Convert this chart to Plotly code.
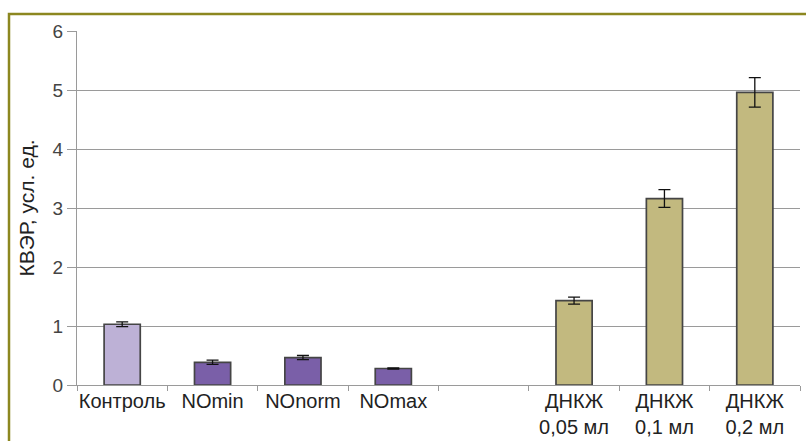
import plotly.graph_objects as go

# Groups along the x axis (one empty slot separates the two series)
categories = ["Контроль", "NOmin", "NOnorm", "NOmax", " ",
              "ДНКЖ<br>0,05 мл", "ДНКЖ<br>0,1 мл", "ДНКЖ<br>0,2 мл"]
kver_values = [1.03, 0.385, 0.465, 0.28, None, 1.43, 3.16, 4.96]
kver_errors = [0.04, 0.035, 0.035, 0.01, None, 0.06, 0.15, 0.25]
bar_colors = ["#BDB1D6", "#7A5FA8", "#7A5FA8", "#7A5FA8", "#FFFFFF",
              "#C2B97F", "#C2B97F", "#C2B97F"]

y_ticks = [0, 1, 2, 3, 4, 5, 6]

fig = go.Figure()
fig.add_trace(go.Bar(
    x=categories,
    y=kver_values,
    width=0.4,
    marker=dict(color=bar_colors, line=dict(color="#454545", width=1.7)),
    error_y=dict(type="data", array=kver_errors, visible=True,
                 color="#111111", thickness=1.3, width=6),
    showlegend=False,
))

W, H = 806, 441
L, R, T, B = 77, 6, 31, 56
pw, ph = W - L - R, H - T - B

def px_x(x):
    return (x - L) / pw

def px_y(y):
    return 1 - (y - T) / ph

# Olive frame around the chart
fig.add_shape(type="rect", xref="paper", yref="paper",
              x0=px_x(9), x1=px_x(W + 20), y0=px_y(H + 20), y1=px_y(14),
              line=dict(color="#8C8720", width=2.5), fillcolor="rgba(0,0,0,0)",
              layer="below")

grid_color = "#9A9A9A"
fig.update_layout(
    width=W, height=H,
    margin=dict(l=L, r=R, t=T, b=B),
    paper_bgcolor="white",
    plot_bgcolor="white",
    font=dict(family="Liberation Sans, Arial, sans-serif", size=18, color="#222222"),
    bargap=0.6,
    xaxis=dict(
        type="category",
        categoryorder="array", categoryarray=categories,
        showline=True, linecolor=grid_color, linewidth=1.2,
        ticks="outside", tickson="boundaries", ticklen=5, tickcolor=grid_color,
        tickwidth=1.2,
        tickangle=0, automargin=False, ticklabelstandoff=-2,
        tickfont=dict(size=20, color="#222222"),
        showgrid=False,
    ),
    yaxis=dict(
        range=[0, 6], tickvals=y_ticks,
        showline=True, linecolor=grid_color, linewidth=1.2,
        showgrid=True, gridcolor=grid_color, gridwidth=1.2,
        ticks="outside", ticklen=9, tickcolor=grid_color, tickwidth=1.2,
        tickfont=dict(size=19, color="#444444"),
        zeroline=False, automargin=False,
        title=dict(text="КВЭР, усл. ед.", font=dict(size=21, color="#222222"),
                   standoff=12),
    ),
)

fig.write_html("out.html")
